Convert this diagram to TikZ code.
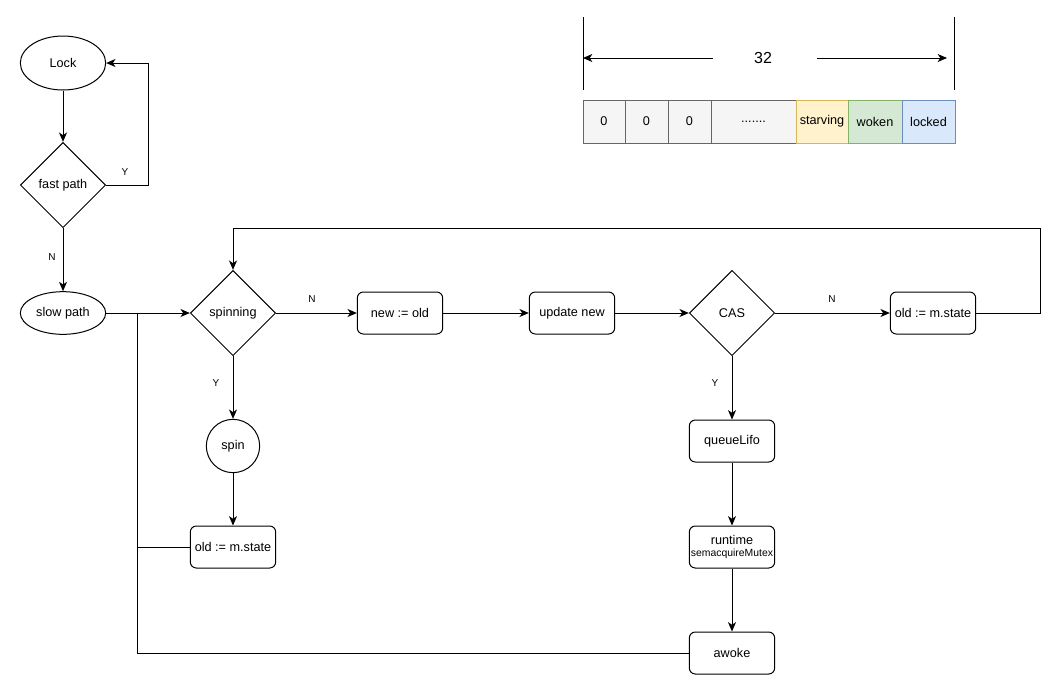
\documentclass[tikz,border=0pt]{standalone}
\usepackage{fontspec}
\setmainfont{Liberation Sans}
\usepackage{tikz}
\usetikzlibrary{arrows.meta, shapes.geometric, calc}

\definecolor{grayfill}{HTML}{F5F5F5}
\definecolor{graydraw}{HTML}{666666}
\definecolor{yellowfill}{HTML}{FFF2CC}
\definecolor{yellowdraw}{HTML}{D6B656}
\definecolor{greenfill}{HTML}{D5E8D4}
\definecolor{greendraw}{HTML}{82B366}
\definecolor{bluefill}{HTML}{DAE8FC}
\definecolor{bluedraw}{HTML}{6C8EBF}
\newcommand{\bitdots}{.......}

\begin{document}
\begin{tikzpicture}[x=0.75pt, y=-0.75pt, line width=0.75pt, font=\fontsize{9.5}{11}\selectfont,
    arr/.style={-{Stealth[length=7pt, width=6pt, inset=2pt]}},
    oval/.style={draw, ellipse, minimum width=64pt, inner sep=0pt},
    decision/.style={draw, diamond, minimum width=64pt, minimum height=64pt, inner sep=0pt},
    process/.style={draw, rounded corners=4.5pt, minimum width=64pt, minimum height=31.5pt, inner sep=0pt, align=center},
    lbl/.style={font=\fontsize{7.5}{9}\selectfont, inner sep=1pt}]
    \useasboundingbox (0,0) rectangle (1051,690);

    % bit layout of the state word
    \draw (583,17) -- (583,90);
    \draw (954,17) -- (954,90);
    \coordinate (barL) at (583,58);
    \coordinate (barR) at (947,58);
    \node[font=\fontsize{12}{14}\selectfont] (width) at (763,58) {32};
    \draw[arr] ($(width)+(-50,0)$) -- (barL);
    \draw[arr] ($(width)+(54,0)$) -- (barR);
    \foreach \xa/\xb/\txt/\fc/\dc in {583/625/0/grayfill/graydraw, 625/668/0/grayfill/graydraw,
        668/711/0/grayfill/graydraw, 711/796/\bitdots/grayfill/graydraw,
        796/848/starving/yellowfill/yellowdraw, 848/902/woken/greenfill/greendraw,
        902/955/locked/bluefill/bluedraw}{
        \draw[fill=\fc, draw=\dc] (\xa,100) rectangle (\xb,143);
        \node at ({(\xa+\xb)/2},121.5) {\txt};
    }

    % flow chart
    \node[oval, minimum height=40.5pt] (lock) at (63,63) {Lock};
    \node[decision] (fast) at (63,185) {fast path};
    \node[oval, minimum height=32pt] (slow) at (63,313) {slow path};
    \node[decision] (spinning) at (233,313) {spinning};
    \node[process] (newold) at (400,313) {new := old};
    \node[process] (update) at (572,313) {update new};
    \node[decision] (cas) at (732,313) {CAS};
    \node[process] (oldstate) at (933,313) {old := m.state};
    \node[draw, circle, minimum size=40pt, inner sep=0pt] (spin) at (233,446) {spin};
    \node[process] (oldleft) at (233,547) {old := m.state};
    \node[process] (queue) at (732,441) {queueLifo};
    \node[process] (runtime) at (732,547) {runtime\\[-2pt]{\fontsize{7.8}{9}\selectfont semacquireMutex}};
    \node[process] (awoke) at (732,653) {awoke};

    \coordinate (fastloop) at (148,185);
    \coordinate (join) at (137,313);
    \coordinate (back) at (1040,228);

    \draw[arr] (lock) -- (fast);
    \draw[arr] (fast.east) -- (fastloop) |- (lock.east);
    \node[lbl] at (125,172) {Y};
    \draw[arr] (fast) -- (slow);
    \node[lbl] at (52,257) {N};
    \draw[arr] (slow) -- (spinning);
    \draw (awoke.west) -| (join);
    \draw (oldleft.west) -- (oldleft.west -| join);
    \draw[arr] (spinning) -- (newold);
    \node[lbl] at (312,299) {N};
    \draw[arr] (newold) -- (update);
    \draw[arr] (update) -- (cas);
    \draw[arr] (cas) -- (oldstate);
    \node[lbl] at (832,299) {N};
    \draw[arr] (oldstate.east) -| (back) -| (spinning.north);
    \draw[arr] (spinning) -- (spin);
    \node[lbl] at (216,383) {Y};
    \draw[arr] (spin) -- (oldleft);
    \draw[arr] (cas) -- (queue);
    \node[lbl] at (715,383) {Y};
    \draw[arr] (queue) -- (runtime);
    \draw[arr] (runtime) -- (awoke);
\end{tikzpicture}
\end{document}
